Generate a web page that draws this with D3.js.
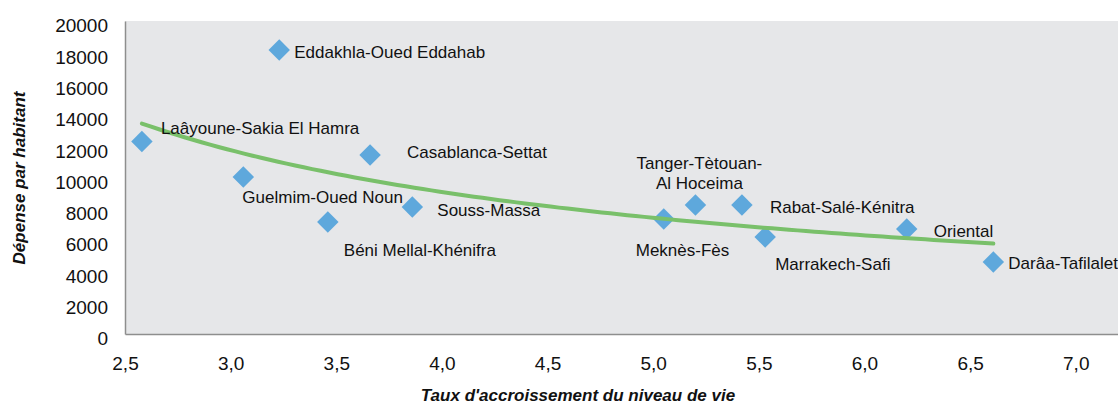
<!DOCTYPE html>
<html lang="fr">
<head>
    <meta charset="UTF-8">
    <title>Dépense par habitant vs taux d'accroissement</title>
    <style>
        body { margin: 0; background: #fff; font-family: "Liberation Sans", Arial, sans-serif; }
        .tick text { fill: #111; }
        .label { font-size: 17px; fill: #111; }
        .axis-title { font-size: 17px; font-weight: bold; font-style: italic; fill: #111; }
    </style>
</head>
<body>
    <svg width="1118" height="413"></svg>
    <script src="https://d3js.org/d3.v7.min.js"></script>
    <script>
        // regions, growth rate of living standard (x) and spending per inhabitant (y)
        const regions = [
            "Laâyoune-Sakia El Hamra", "Eddakhla-Oued Eddahab", "Guelmim-Oued Noun",
            "Béni Mellal-Khénifra", "Casablanca-Settat", "Souss-Massa", "Meknès-Fès",
            "Tanger-Tètouan-|Al Hoceima", "Rabat-Salé-Kénitra", "Marrakech-Safi",
            "Oriental", "Darâa-Tafilalet"
        ];
        const growth = [2.58, 3.23, 3.06, 3.46, 3.66, 3.86, 5.05, 5.20, 5.42, 5.53, 6.20, 6.61];
        const spending = [12300, 18150, 10030, 7160, 11440, 8120, 7350, 8240, 8240, 6200, 6710, 4600];

        const xTicks = [2.5, 3.0, 3.5, 4.0, 4.5, 5.0, 5.5, 6.0, 6.5, 7.0];
        const yTicks = [0, 2000, 4000, 6000, 8000, 10000, 12000, 14000, 16000, 18000, 20000];

        // label placement (px from the marker), as in the original
        const labelOffsets = [
            [19, -13, "start"], [15, 2, "start"], [-1, 20, "start"], [16, 28, "start"],
            [37, -3, "start"], [25, 3, "start"], [-28, 31, "start"], [4, -42, "middle"],
            [28, 2, "start"], [10, 27, "start"], [27, 2, "start"], [15, 1, "start"]
        ];

        const plotL = 125, plotR = 1118, plotT = 21, plotB = 334;

        const svg = d3.select("svg");
        const x = d3.scaleLinear().domain([2.5, 7.2]).range([plotL, plotR]);
        const y = d3.scaleLinear().domain([0, 20000]).range([plotB, plotT]);

        // plot area
        svg.append("rect")
            .attr("x", plotL).attr("y", plotT)
            .attr("width", plotR - plotL).attr("height", plotB - plotT)
            .attr("fill", "#e6e7e9");

        const fmt = d => d3.format(".1f")(d).replace(".", ",");

        svg.append("g")
            .attr("transform", `translate(0,${plotB})`)
            .call(d3.axisBottom(x).tickValues(xTicks).tickFormat(fmt).tickSize(0).tickPadding(23))
            .call(g => g.select(".domain").attr("stroke", "#8e8e8e").attr("stroke-width", 1.5))
            .selectAll("text").style("font-size", "19px").style("font-family", "Liberation Sans, Arial, sans-serif");

        svg.append("g")
            .attr("transform", `translate(${plotL},0)`)
            .call(d3.axisLeft(y).tickValues(yTicks).tickFormat(d3.format("d")).tickSize(0).tickPadding(17))
            .call(g => g.select(".domain").attr("stroke", "#8e8e8e").attr("stroke-width", 1.5))
            .selectAll("text")
            .attr("dy", "0.57em")
            .style("font-size", "19px").style("font-family", "Liberation Sans, Arial, sans-serif");

        const pts = growth.map((g, i) => ({ x: g, y: spending[i], name: regions[i], off: labelOffsets[i] }));

        // markers
        svg.append("g").selectAll("path")
            .data(pts)
            .enter().append("path")
            .attr("d", d3.symbol().type(d3.symbolSquare).size(230))
            .attr("transform", d => `translate(${x(d.x)},${y(d.y)}) rotate(45)`)
            .attr("fill", "#5ea8dc");

        // power trendline fitted on the points (y = a * x^b)
        const lx = growth.map(Math.log), ly = spending.map(Math.log);
        const mx = d3.mean(lx), my = d3.mean(ly);
        const b = d3.sum(lx, (v, i) => (v - mx) * (ly[i] - my)) / d3.sum(lx, v => (v - mx) ** 2);
        const a = Math.exp(my - b * mx);
        const [x0, x1] = d3.extent(growth);
        const trend = d3.range(0, 101).map(k => x0 + (x1 - x0) * k / 100);

        svg.append("path")
            .datum(trend)
            .attr("fill", "none")
            .attr("stroke", "#79c06a")
            .attr("stroke-width", 4)
            .attr("stroke-linecap", "round")
            .attr("d", d3.line().x(d => x(d)).y(d => y(a * Math.pow(d, b))));

        // data labels
        const lab = svg.append("g").selectAll("text")
            .data(pts)
            .enter().append("text")
            .attr("class", "label")
            .attr("x", d => x(d.x) + d.off[0])
            .attr("y", d => y(d.y) + d.off[1])
            .attr("text-anchor", d => d.off[2]);

        lab.each(function(d) {
            const parts = d.name.split("|");
            const t = d3.select(this);
            parts.forEach((p, j) => {
                t.append("tspan")
                    .attr("x", x(d.x) + d.off[0])
                    .attr("dy", j === 0 ? "0.35em" : "20px")
                    .text(p);
            });
        });

        // axis titles
        svg.append("text")
            .attr("class", "axis-title")
            .attr("x", 578).attr("y", 401)
            .attr("text-anchor", "middle")
            .text("Taux d'accroissement du niveau de vie");

        svg.append("text")
            .attr("class", "axis-title")
            .attr("transform", "translate(25,178) rotate(-90)")
            .attr("text-anchor", "middle")
            .text("Dépense par habitant");
    </script>
</body>
</html>
